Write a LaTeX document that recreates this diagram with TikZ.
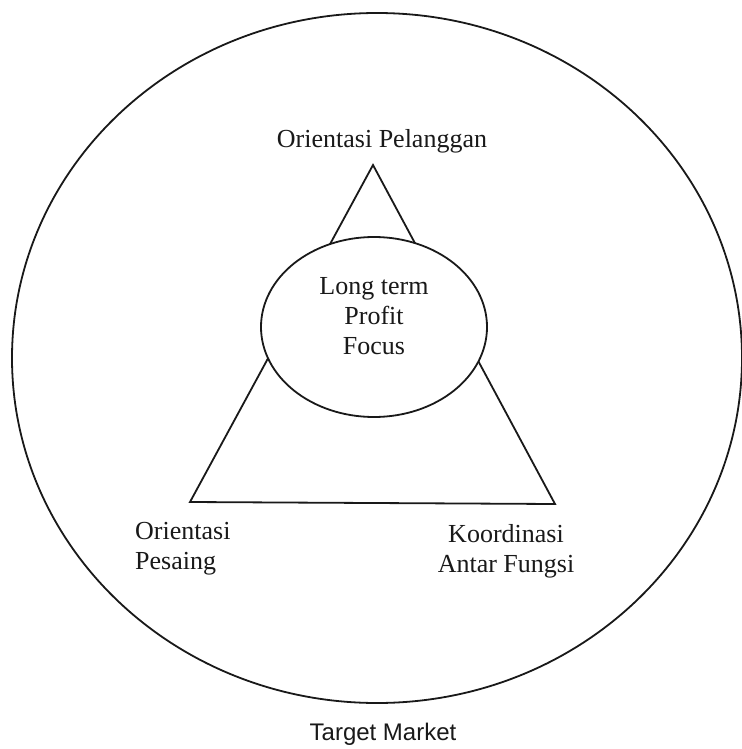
\documentclass[tikz,border=0pt]{standalone}
\usepackage{fontspec}
\setmainfont{Liberation Serif}
\newfontfamily\labelsans{Liberation Sans}
\usetikzlibrary{shapes.geometric}
\begin{document}
\begin{tikzpicture}[x=1pt,y=-1pt,
  outline/.style={draw=black!90,line width=1.8pt},
  serifl/.style={font=\fontsize{26}{30}\selectfont,inner sep=0pt,text=black!90},
  sansl/.style={font=\labelsans\fontsize{24}{28}\selectfont,inner sep=0pt,text=black!90}]
\useasboundingbox[fill=white] (0,0) rectangle (741,749);
% outer market ellipse
\node[outline,ellipse,minimum width=730pt,minimum height=690pt,inner sep=0pt] (market) at (377,358) {};
% triangle
\coordinate (apex) at (373,165);
\coordinate (bl) at (190,502);
\coordinate (br) at (555,504);
\draw[outline,line join=miter] (apex) -- (bl) -- (br) -- cycle;
% inner ellipse
\node[outline,fill=white,ellipse,minimum width=226pt,minimum height=180pt,inner sep=0pt] (core) at (374,327) {};
% labels
\node[serifl,anchor=base] (cust) at (382,147.5) {Orientasi Pelanggan};
\node[serifl,align=center] (profit) at (374,316.5) {Long term\\Profit\\Focus};
\node[serifl,align=left,anchor=west] (comp) at (135,549) {Orientasi\\Pesaing};
\node[serifl,align=center] (coord) at (506,551) {Koordinasi\\Antar Fungsi};
\node[sansl,anchor=base] (target) at (383,740) {Target Market};
\end{tikzpicture}
\end{document}
